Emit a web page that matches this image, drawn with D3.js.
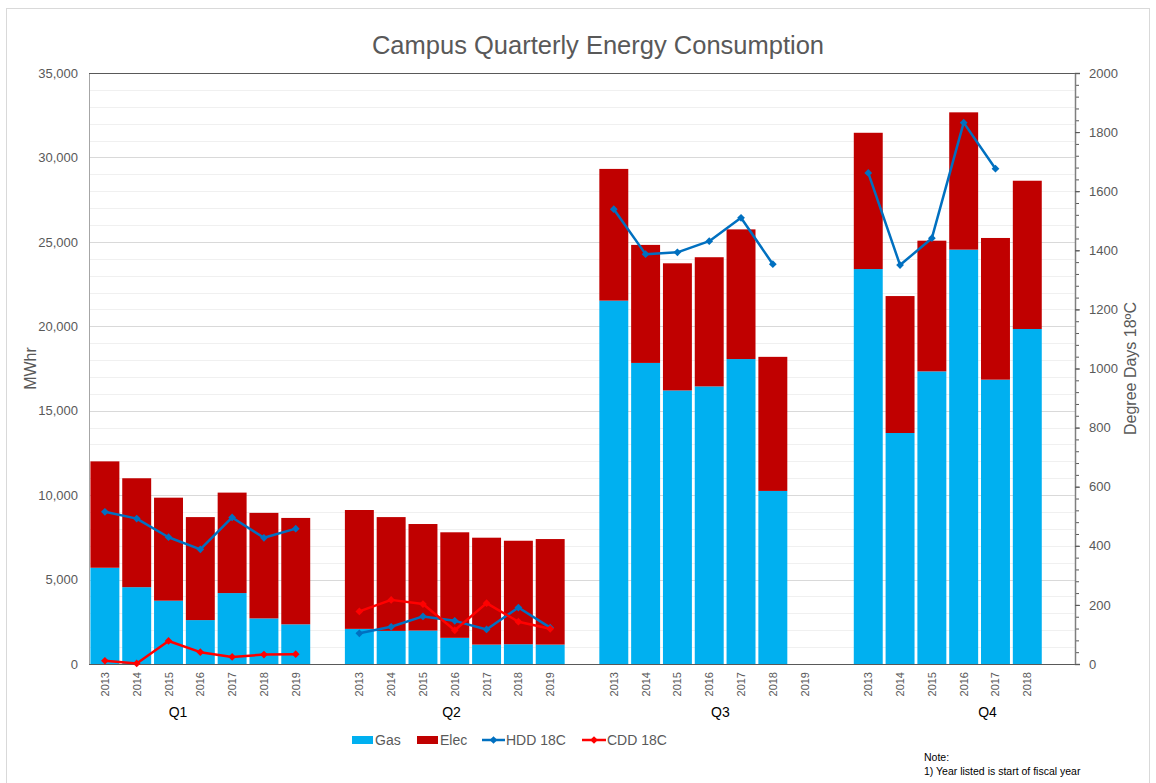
<!DOCTYPE html>
<html>
<head>
<meta charset="utf-8">
<script src="https://cdn.jsdelivr.net/npm/d3@7"></script>
<style>
  body { margin: 0; background: #fff; }
  text { font-family: "Liberation Sans", Arial, sans-serif; }
</style>
</head>
<body>
<div id="energyChart"></div>
<script>
// chart data
var quarters = ["Q1", "Q2", "Q3", "Q4"];
var years = ["2013", "2014", "2015", "2016", "2017", "2018", "2019"];
var yearsShown = [7, 7, 7, 6];   // how many year labels each quarter has

var gasQ1 = [5700, 4550, 3750, 2600, 4200, 2700, 2350];
var gasQ2 = [2080, 1960, 1980, 1550, 1150, 1170, 1150];
var gasQ3 = [21520, 17830, 16200, 16440, 18060, 10250, null];
var gasQ4 = [23390, 13680, 17330, 24540, 16840, 19840];

var elecQ1 = [6300, 6450, 6100, 6100, 5950, 6250, 6300];
var elecQ2 = [7040, 6740, 6310, 6250, 6330, 6130, 6250];
var elecQ3 = [7800, 6990, 7530, 7650, 7680, 7940, null];
var elecQ4 = [8070, 8110, 7740, 8130, 8390, 8780];

var hddQ1 = [515, 492, 429, 388, 496, 427, 458];
var hddQ2 = [104, 126, 161, 146, 117, 191, 123];
var hddQ3 = [1539, 1387, 1393, 1431, 1510, 1353, null];
var hddQ4 = [1662, 1350, 1441, 1832, 1676, null];

var cddQ1 = [11, 2, 78, 40, 24, 32, 33];
var cddQ2 = [178, 217, 203, 114, 206, 143, 119];
var cddQ3 = [null, null, null, null, null, null, null];
var cddQ4 = [null, null, null, null, null, null];

var leftTicks = [0, 5000, 10000, 15000, 20000, 25000, 30000, 35000];
var rightTicks = [0, 200, 400, 600, 800, 1000, 1200, 1400, 1600, 1800, 2000];

var gasColor = "#00b0f0";
var elecColor = "#c00000";
var hddColor = "#0070c0";
var cddColor = "#ff0000";
var textColor = "#595959";

function drawEnergyChart()
{
  var W = 1156, H = 783;
  var margin = {top: 73, right: 81, bottom: 119, left: 89};
  var width = W - margin.left - margin.right;
  var height = H - margin.top - margin.bottom;

  var root = d3.select("#energyChart")
            .append("svg")
            .attr("width", W)
            .attr("height", H);

  // chart border
  root.append("rect")
    .attr("x", 6.5).attr("y", 8.5)
    .attr("width", 1143).attr("height", 790)
    .attr("fill", "none")
    .attr("stroke", "#d9d9d9");

  // title
  root.append("text")
    .attr("x", 598).attr("y", 54)
    .attr("text-anchor", "middle")
    .attr("fill", textColor)
    .style("font-size", "25.5px")
    .text("Campus Quarterly Energy Consumption");

  var svg = root.append("g")
            .attr("transform", "translate(" + margin.left + "," + margin.top + ")");

  // one slot per year, one blank slot between quarters, one blank at the end
  var gas = [gasQ1, gasQ2, gasQ3, gasQ4];
  var elec = [elecQ1, elecQ2, elecQ3, elecQ4];
  var hdd = [hddQ1, hddQ2, hddQ3, hddQ4];
  var cdd = [cddQ1, cddQ2, cddQ3, cddQ4];

  var rows = [];
  quarters.forEach(function(q, qi) {
    for (var yi = 0; yi < yearsShown[qi]; yi++) {
      rows.push({
        slot: qi * 8 + yi, quarter: qi, year: years[yi],
        gas: gas[qi][yi], elec: elec[qi][yi],
        hdd: hdd[qi][yi], cdd: cdd[qi][yi]
      });
    }
  });

  var x = d3.scaleBand()
    .domain(d3.range(31))
    .range([0, width])
    .paddingInner(0.09)
    .paddingOuter(0.045);

  var y = d3.scaleLinear().domain([0, 35000]).range([height, 0]);
  var y2 = d3.scaleLinear().domain([0, 2000]).range([height, 0]);

  // gridlines
  svg.append("g")
    .selectAll("line")
    .data(d3.range(1000, 35000, 1000))
    .join("line")
    .attr("x1", 0).attr("x2", width)
    .attr("y1", function(d) { return Math.round(y(d)) + 0.5; })
    .attr("y2", function(d) { return Math.round(y(d)) + 0.5; })
    .attr("stroke", function(d) { return d % 5000 === 0 ? "#d9d9d9" : "#f0f0f0"; })
    .attr("stroke-width", 1);

  // bars
  var bars = svg.append("g");
  bars.selectAll(".gas")
    .data(rows.filter(function(d) { return d.gas != null; }))
    .join("rect")
    .attr("class", "gas")
    .attr("x", function(d) { return x(d.slot); })
    .attr("width", x.bandwidth())
    .attr("y", function(d) { return y(d.gas); })
    .attr("height", function(d) { return y(0) - y(d.gas); })
    .attr("fill", gasColor);

  bars.selectAll(".elec")
    .data(rows.filter(function(d) { return d.elec != null; }))
    .join("rect")
    .attr("class", "elec")
    .attr("x", function(d) { return x(d.slot); })
    .attr("width", x.bandwidth())
    .attr("y", function(d) { return y(d.gas + d.elec); })
    .attr("height", function(d) { return y(d.gas) - y(d.gas + d.elec); })
    .attr("fill", elecColor);

  // axes
  svg.append("line")
    .attr("x1", 0.5).attr("x2", 0.5).attr("y1", 0).attr("y2", height)
    .attr("stroke", "#a6a6a6");
  svg.append("line")
    .attr("x1", 0).attr("x2", width).attr("y1", 0.5).attr("y2", 0.5)
    .attr("stroke", "#595959");
  svg.append("line")
    .attr("x1", 0).attr("x2", width).attr("y1", height + 0.5).attr("y2", height + 0.5)
    .attr("stroke", "#595959");

  var yAxis = svg.append("g")
    .call(d3.axisLeft(y).tickValues(leftTicks).tickSize(0).tickPadding(11).tickFormat(d3.format(",")));
  yAxis.select(".domain").remove();
  yAxis.selectAll("text")
    .attr("fill", textColor)
    .style("font-size", "13px");

  // right axis with minor ticks
  var minor = svg.append("g")
    .attr("transform", "translate(" + width + ",0)")
    .call(d3.axisRight(y2).tickValues(d3.range(0, 2001, 40)).tickSize(4).tickFormat(""));
  minor.select(".domain").remove();
  minor.selectAll("line").attr("stroke", "#595959");

  var y2Axis = svg.append("g")
    .attr("transform", "translate(" + width + ",0)")
    .call(d3.axisRight(y2).tickValues(rightTicks).tickSize(5).tickPadding(9).tickFormat(d3.format("d")));
  y2Axis.select(".domain").attr("stroke", "#7f7f7f").attr("stroke-width", 1.5);
  y2Axis.selectAll("line").attr("stroke", "#595959");
  y2Axis.selectAll("text")
    .attr("fill", textColor)
    .style("font-size", "13px");

  // axis titles
  root.append("text")
    .attr("transform", "translate(36," + (margin.top + height / 2) + ") rotate(-90)")
    .attr("text-anchor", "middle")
    .attr("fill", textColor)
    .style("font-size", "16px")
    .text("MWhr");

  root.append("text")
    .attr("transform", "translate(1136," + (margin.top + height / 2) + ") rotate(-90)")
    .attr("text-anchor", "middle")
    .attr("fill", textColor)
    .style("font-size", "16px")
    .text("Degree Days 18ºC");

  // year labels
  svg.append("g")
    .selectAll("text")
    .data(rows)
    .join("text")
    .attr("transform", function(d) {
      return "translate(" + (x(d.slot) + x.bandwidth() / 2 + 4) + "," + (height + 8) + ") rotate(-90)";
    })
    .attr("text-anchor", "end")
    .attr("fill", textColor)
    .style("font-size", "11px")
    .text(function(d) { return d.year; });

  // quarter labels
  var quarterAt = [2.3, 10.9, 19.35, 27.75];
  svg.append("g")
    .selectAll("text")
    .data(quarters)
    .join("text")
    .attr("x", function(d, i) { return x(0) + x.bandwidth() / 2 + quarterAt[i] * x.step(); })
    .attr("y", height + 53)
    .attr("text-anchor", "middle")
    .attr("fill", "#000")
    .style("font-size", "14px")
    .text(function(d) { return d; });

  // degree day lines, one piece per quarter
  var line = d3.line()
    .defined(function(d) { return d.v != null; })
    .x(function(d) { return x(d.slot) + x.bandwidth() / 2; })
    .y(function(d) { return y2(d.v); });

  var diamond = d3.symbol().type(d3.symbolSquare).size(30);

  function addSeries(key, color)
  {
    var g = svg.append("g");
    quarters.forEach(function(q, qi) {
      var pts = rows.filter(function(d) { return d.quarter === qi; })
                    .map(function(d) { return {slot: d.slot, v: d[key]}; });
      g.append("path")
        .datum(pts)
        .attr("fill", "none")
        .attr("stroke", color)
        .attr("stroke-width", 2.5)
        .attr("stroke-linejoin", "round")
        .attr("d", line);
      g.selectAll(null)
        .data(pts.filter(function(d) { return d.v != null; }))
        .join("path")
        .attr("transform", function(d) {
          return "translate(" + (x(d.slot) + x.bandwidth() / 2) + "," + y2(d.v) + ") rotate(45)";
        })
        .attr("d", diamond)
        .attr("fill", color);
    });
  }
  addSeries("hdd", hddColor);
  addSeries("cdd", cddColor);

  // legend
  var legend = root.append("g").attr("transform", "translate(0,740)");
  legend.append("rect").attr("x", 352).attr("y", -4).attr("width", 21).attr("height", 8).attr("fill", gasColor);
  legend.append("rect").attr("x", 417).attr("y", -4).attr("width", 21).attr("height", 8).attr("fill", elecColor);
  legend.append("line").attr("x1", 482).attr("x2", 505).attr("y1", 0).attr("y2", 0)
    .attr("stroke", hddColor).attr("stroke-width", 2.5);
  legend.append("path").attr("transform", "translate(493.5,0) rotate(45)").attr("d", diamond).attr("fill", hddColor);
  legend.append("line").attr("x1", 582).attr("x2", 606).attr("y1", 0).attr("y2", 0)
    .attr("stroke", cddColor).attr("stroke-width", 2.5);
  legend.append("path").attr("transform", "translate(594,0) rotate(45)").attr("d", diamond).attr("fill", cddColor);

  var legendText = [["Gas", 375], ["Elec", 440], ["HDD 18C", 506], ["CDD 18C", 607]];
  legend.selectAll("text")
    .data(legendText)
    .join("text")
    .attr("x", function(d) { return d[1]; })
    .attr("y", 5)
    .attr("fill", textColor)
    .style("font-size", "14px")
    .text(function(d) { return d[0]; });

  // note
  root.append("text")
    .attr("x", 924).attr("y", 761)
    .attr("fill", "#000")
    .style("font-size", "10.5px")
    .text("Note:");
  root.append("text")
    .attr("x", 924).attr("y", 775)
    .attr("fill", "#000")
    .style("font-size", "10.5px")
    .text("1) Year listed is start of fiscal year");
}

drawEnergyChart();
</script>
</body>
</html>
